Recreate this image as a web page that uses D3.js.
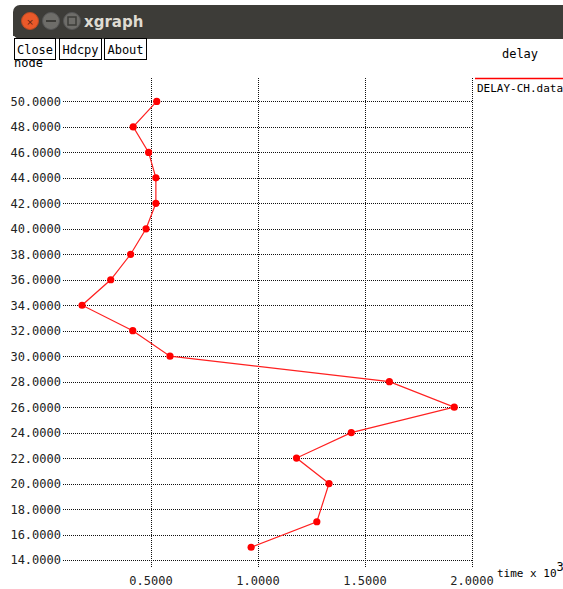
<!DOCTYPE html>
<html><head><meta charset="utf-8">
<script src="https://cdn.jsdelivr.net/npm/d3@7"></script>
<style>
html,body{margin:0;padding:0;background:#fff;overflow:hidden}
svg{display:block}
</style></head>
<body>
<script>
const nodes = [50,48,46,44,42,40,38,36,34,32,30,28,26,24,22,20,17,15];
const times = [0.527,0.417,0.489,0.523,0.523,0.477,0.405,0.312,0.178,0.415,0.589,1.614,1.917,1.436,1.180,1.332,1.275,0.968];
const yTicks = [14,16,18,20,22,24,26,28,30,32,34,36,38,40,42,44,46,48,50];
const xTicks = [0.5,1.0,1.5,2.0];
const seriesName = "DELAY-CH.data";
const xLabel = "time x 10";
const yLabel = "node";
const title = "delay";
const buttons = ["Close","Hdcpy","About"];

const W = 563, H = 589;
const svg = d3.select("body").append("svg").attr("width",W).attr("height",H);
const mono = "'DejaVu Sans Mono','Liberation Mono',monospace";

// window chrome
svg.append("rect").attr("x",13).attr("y",5).attr("width",W-13+8).attr("height",34).attr("rx",7).attr("fill","#3d3c38");
svg.append("rect").attr("x",13).attr("y",30).attr("width",W-13).attr("height",6).attr("fill","#3d3c38");
svg.append("circle").attr("cx",30).attr("cy",21).attr("r",8.5).attr("fill","#e9592a").attr("stroke","#b84a22");
svg.append("text").attr("x",30).attr("y",24.5).attr("text-anchor","middle").attr("font-size",9).attr("font-family","DejaVu Sans").attr("fill","#5a2010").text("×");
svg.append("circle").attr("cx",51).attr("cy",21).attr("r",8.5).attr("fill","#6e6d69").attr("stroke","#555");
svg.append("rect").attr("x",46).attr("y",20).attr("width",10).attr("height",2).attr("fill","#3d3c38");
svg.append("circle").attr("cx",72).attr("cy",21).attr("r",8.5).attr("fill","#6e6d69").attr("stroke","#555");
svg.append("rect").attr("x",68).attr("y",17).attr("width",8).attr("height",8).attr("fill","none").attr("stroke","#3d3c38").attr("stroke-width",1.5);
svg.append("text").attr("x",84).attr("y",27).attr("font-family","'DejaVu Sans',sans-serif").attr("font-weight","bold").attr("font-size",15).attr("fill","#dfdbd2").text("xgraph");

// y label (partially hidden behind buttons)
svg.append("text").attr("x",14).attr("y",67).attr("font-family",mono).attr("font-size",12).attr("fill","#000").text(yLabel);

// buttons
const bx = [14,59,104], bw = [41,42,42];
buttons.forEach((b,i)=>{
  svg.append("rect").attr("x",bx[i]+0.5).attr("y",38.5).attr("width",bw[i]).attr("height",21).attr("fill","#fff").attr("stroke","#000");
  svg.append("text").attr("x",bx[i]+bw[i]/2+0.5).attr("y",54).attr("text-anchor","middle").attr("font-family",mono).attr("font-size",12).attr("fill","#000").text(b);
});

svg.append("text").attr("x",520).attr("y",58).attr("text-anchor","middle").attr("font-family",mono).attr("font-size",12).attr("fill","#000").text(title);

// scales
const x = d3.scaleLinear().domain([0.089,2.0]).range([63,472]);
const y = d3.scaleLinear().domain([13.37,51.84]).range([568,78]);

const grid = svg.append("g");
grid.selectAll("line.h").data(yTicks).enter().append("line")
  .attr("x1",63).attr("x2",472).attr("y1",d=>Math.round(y(d))+0.5).attr("y2",d=>Math.round(y(d))+0.5)
  .attr("stroke","#111").attr("stroke-dasharray","1,1");
grid.selectAll("line.v").data(xTicks).enter().append("line")
  .attr("y1",78).attr("y2",568).attr("x1",d=>Math.round(x(d))+0.5).attr("x2",d=>Math.round(x(d))+0.5)
  .attr("stroke","#111").attr("stroke-dasharray","1,1");

const fmt = d3.format(".4f");
svg.selectAll("text.yt").data(yTicks).enter().append("text")
  .attr("x",61).attr("y",d=>y(d)+4.5).attr("text-anchor","end")
  .attr("font-family",mono).attr("font-size",12).attr("fill","#222").text(d=>fmt(d));
svg.selectAll("text.xt").data(xTicks).enter().append("text")
  .attr("x",d=>x(d)).attr("y",585).attr("text-anchor","middle")
  .attr("font-family",mono).attr("font-size",12).attr("fill","#222").text(d=>fmt(d));

const xl = svg.append("text").attr("x",497).attr("y",577).attr("font-family",mono).attr("font-size",11).attr("fill","#000");
xl.append("tspan").text(xLabel);
xl.append("tspan").attr("dy",-6).attr("font-size",12).text("3");

// legend
svg.append("line").attr("x1",475).attr("x2",563).attr("y1",78.5).attr("y2",78.5).attr("stroke","#ff0000").attr("stroke-width",1.5);
svg.append("text").attr("x",477).attr("y",92).attr("font-family",mono).attr("font-size",11).attr("fill","#000").text(seriesName);

// series
const data = nodes.map((n,i)=>({n, t: times[i]}));
svg.append("path").datum(data)
  .attr("d", d3.line().x(d=>x(d.t)).y(d=>y(d.n)))
  .attr("fill","none").attr("stroke","#ff2020").attr("stroke-width",1.2);
svg.selectAll("circle.pt").data(data).enter().append("circle")
  .attr("cx",d=>x(d.t)).attr("cy",d=>y(d.n)).attr("r",3.6).attr("fill","#ff0000");
</script>
</body></html>
